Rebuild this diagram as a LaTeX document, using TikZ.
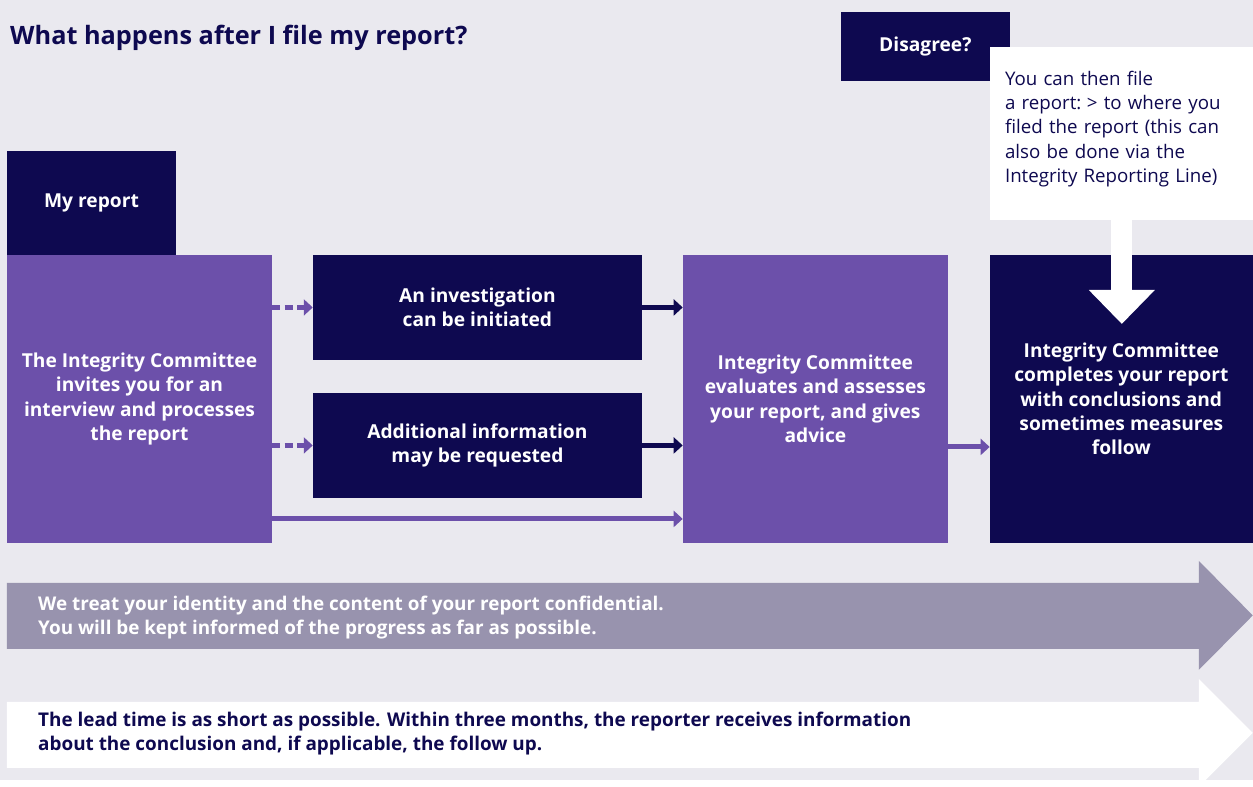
\documentclass[tikz,border=0pt]{standalone}
\usepackage{fontspec}
\setmainfont{Open Sans}
\usepackage{xcolor}
\usetikzlibrary{arrows.meta}
\definecolor{navy}{HTML}{0E0950}
\definecolor{lilac}{HTML}{6C50AA}
\definecolor{paper}{HTML}{EAE9EF}
\definecolor{mist}{HTML}{9893AE}

\begin{document}
\begin{tikzpicture}[x=1pt,y=-1pt,
    box/.style={fill=#1,text=white,inner sep=0pt,align=center,
      font=\bfseries\fontsize{19.2}{24.3}\selectfont},
    flow/.style={#1,line width=5pt,-{Triangle[length=9pt,width=16pt]}},
    maybe/.style={flow=lilac,dash pattern=on 8pt off 4.5pt}]
    \fill[paper] (0,0) rectangle (1253,780);
    \node[anchor=base west,inner sep=0pt,text=navy,font=\bfseries\fontsize{25.3}{28}\selectfont] (title) at (10,45) {What happens after I file my report?};
    \node[box=navy,minimum width=169,minimum height=69] (disagree) at (925.5,46.5) {\raisebox{-2pt}{Disagree?}};
    \node[anchor=north west,fill=white,text=navy,inner xsep=15pt,inner ysep=0pt,text width=233,text height=38pt,text depth=135pt,align=left,
      font=\fontsize{18.7}{24.3}\selectfont] (note) at (990,47) {You can then file\\a report:\hspace{5.5pt}> to where you\\filed the report (this can\\also be done via the\\Integrity Reporting Line)};
    \node[box=navy,minimum width=169,minimum height=104] (mine) at (91.5,203) {\raisebox{-2pt}{My report}};
    \node[box=lilac,minimum width=265,minimum height=288] (ic) at (139.5,399) {The Integrity Committee\\invites you for an\\interview and processes\\the report};
    \node[box=navy,minimum width=329,minimum height=105] (inv) at (477.5,307.5) {An investigation\\can be initiated};
    \node[box=navy,minimum width=329,minimum height=105] (info) at (477.5,445.5) {Additional information\\may be requested};
    \node[box=lilac,minimum width=265,minimum height=288] (ev) at (815.5,399) {Integrity Committee\\evaluates and assesses\\your report, and gives\\advice};
    \node[box=navy,minimum width=263,minimum height=288] (done) at (1121.5,399) {Integrity Committee\\completes your report\\with conclusions and\\sometimes measures\\follow};
    \coordinate (tip) at (1122,324);
    \draw[maybe] (ic.east |- inv) -- (inv.west);
    \draw[maybe] (ic.east |- info) -- (info.west);
    \draw[flow=navy] (inv.east) -- (ev.west |- inv);
    \draw[flow=navy] (info.east) -- (ev.west |- info);
    \draw[flow=lilac] ([yshift=-120pt]ic.east) -- ([yshift=-120pt]ev.west);
    \draw[flow=lilac] ([yshift=-48pt]ev.east) -- ([yshift=-48pt]done.west);
    \draw[white,line width=21pt,-{Triangle[length=34pt,width=64pt]}] (note.south -| tip) -- (tip);
    \fill[mist] (7,583) -- (1199,583) -- (1199,561) -- (1253,615.5) -- (1199,670) -- (1199,649) -- (7,649) -- cycle;
    \node[anchor=west,inner sep=0pt,text=white,align=left,font=\bfseries\fontsize{18.9}{23.5}\selectfont] (privacy) at (38,617.5) {We treat your identity and the content of your report confidential.\\You will be kept informed of the progress as far as possible.};
    \fill[white] (7,702) -- (1199,702) -- (1199,679) -- (1253,733) -- (1199,787) -- (1199,768) -- (7,768) -- cycle;
    \node[anchor=west,inner sep=0pt,text=navy,align=left,font=\bfseries\fontsize{18.9}{24}\selectfont] (lead) at (38,734) {The lead time is as short as possible. Within three months, the reporter receives information\\about the conclusion and, if applicable, the follow up.};
\end{tikzpicture}
\end{document}
